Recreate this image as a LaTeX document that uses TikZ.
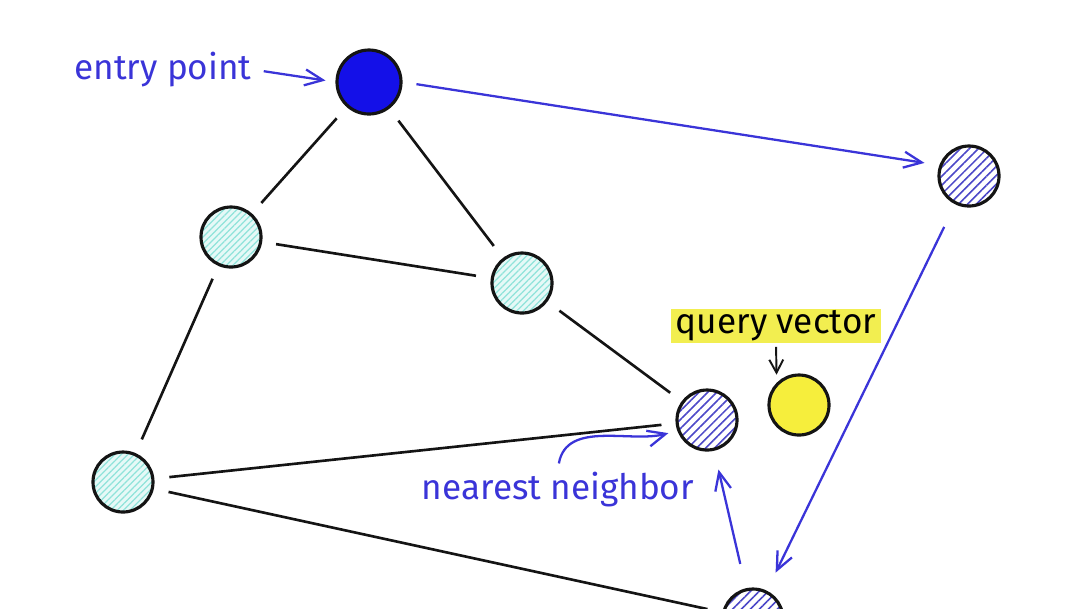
\documentclass[tikz,border=0pt]{standalone}
\usepackage{fontspec}
\setmainfont{Fira Sans}
\usetikzlibrary{arrows.meta, patterns.meta}
\definecolor{entryBlue}{HTML}{1410E8}
\definecolor{inkBlue}{HTML}{3A34D8}
\definecolor{hatchBlue}{HTML}{4B47C8}
\definecolor{hatchCyan}{HTML}{8FE3DA}
\definecolor{paleCyan}{HTML}{E6F9F7}
\definecolor{queryYellow}{HTML}{F6EE3C}
\definecolor{markYellow}{HTML}{F2EE50}
\definecolor{dark}{HTML}{141414}
\tikzset{
  font=\fontsize{10}{12}\selectfont,
  vec/.style={circle, draw=dark, line width=0.9pt, minimum size=0.6cm, inner sep=0pt},
  entrynode/.style={vec, fill=entryBlue, minimum size=0.64cm},
  visited/.style={vec, preaction={fill=paleCyan},
                  pattern={Lines[angle=45, distance=1.3pt, line width=0.35pt]}, pattern color=hatchCyan},
  hop/.style={vec, preaction={fill=white},
              pattern={Lines[angle=45, distance=1.8pt, line width=0.45pt]}, pattern color=hatchBlue},
  querynode/.style={vec, fill=queryYellow},
  edge/.style={draw=dark, line width=0.75pt, shorten <=0.15cm, shorten >=0.15cm},
  search/.style={-{Straight Barb[length=1.8mm, width=1.6mm]}, draw=inkBlue, line width=0.65pt},
  pointer/.style={-{Straight Barb[length=1.3mm, width=1.4mm]}, draw=dark, line width=0.55pt},
  note/.style={text=inkBlue, inner sep=1pt},
}

\begin{document}
\begin{tikzpicture}
  \clip (0,0) rectangle (10.80,-6.08);

  % --- graph nodes ---
  \node[entrynode] (entry)   at (3.69,-0.82) {};
  \node[visited]   (cyanA)   at (2.31,-2.37) {};
  \node[visited]   (cyanB)   at (5.22,-2.83) {};
  \node[visited]   (cyanC)   at (1.23,-4.82) {};
  \node[hop]       (nearest) at (7.07,-4.20) {};
  \node[hop]       (hopR)    at (9.69,-1.76) {};
  \node[hop]       (hopB)    at (7.53,-6.19) {};
  \node[querynode] (query)   at (7.99,-4.05) {};

  % --- black graph edges ---
  \draw[edge] (entry) -- (cyanA);
  \draw[edge] (entry) -- (cyanB);
  \draw[edge] (cyanA) -- (cyanB);
  \draw[edge] (cyanA) -- (cyanC);
  \draw[edge] (cyanB) -- (nearest);
  \draw[edge] (cyanC) -- (nearest);
  \draw[edge] (cyanC) -- (hopB);

  % --- blue search path ---
  \draw[search, shorten <=0.14cm, shorten >=0.15cm] (entry.east) -- (hopR.160);
  \draw[search, shorten <=0.25cm, shorten >=0.2cm] (hopR) -- (hopB);
  \draw[search, shorten <=0.25cm, shorten >=0.2cm] (hopB) -- (nearest);

  % --- annotations ---
  \node[note] (lblentry) at (1.63,-0.70) {entry point};
  \draw[search, shorten <=0.08cm, shorten >=0.1cm] (lblentry.east) -- (entry.west);

  \node[fill=markYellow, inner xsep=1.5pt, inner ysep=0.5pt] (lblquery) at (7.76,-3.26) {query vector};
  \draw[pointer, shorten <=0.03cm, shorten >=0.08cm] (lblquery.south) -- (query.north west);

  \node[note] (lblnn) at (5.58,-4.90) {nearest neighbor};
  \draw[search, shorten <=0.05cm, shorten >=0.1cm] (lblnn.north) to[out=80, in=195] (nearest.200);
\end{tikzpicture}
\end{document}
